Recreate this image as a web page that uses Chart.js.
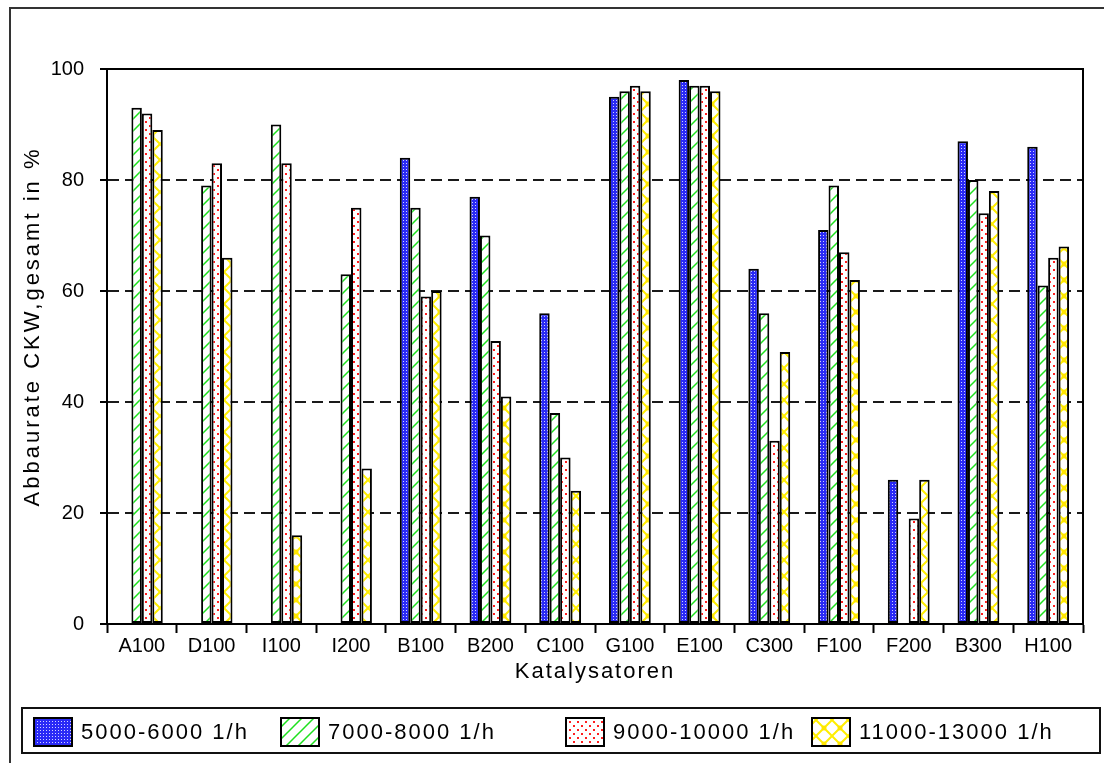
<!DOCTYPE html>
<html>
<head>
<meta charset="utf-8">
<script src="https://cdn.jsdelivr.net/npm/chart.js@4/dist/chart.umd.min.js"></script>
<style>
  html, body { margin: 0; padding: 0; background: #fff; }
</style>
</head>
<body>
<canvas id="chart" width="1104" height="763"></canvas>
<script>
'use strict';

// Katalysatoren and Abbaurate (CKW gesamt, %) per Raumgeschwindigkeit
const katalysatoren = ['A100', 'D100', 'I100', 'I200', 'B100', 'B200', 'C100',
  'G100', 'E100', 'C300', 'F100', 'F200', 'B300', 'H100'];
const reihen = ['5000-6000 1/h', '7000-8000 1/h', '9000-10000 1/h', '11000-13000 1/h'];
const rate5000 = [null, null, null, null, 84, 77, 56, 95, 98, 64, 71, 26, 87, 86];
const rate7000 = [93, 79, 90, 63, 75, 70, 38, 96, 97, 56, 79, null, 80, 61];
const rate9000 = [92, 83, 83, 75, 59, 51, 30, 97, 97, 33, 67, 19, 74, 66];
const rate11000 = [89, 66, 16, 28, 60, 41, 24, 96, 96, 49, 62, 26, 78, 68];
const yTicks = [0, 20, 40, 60, 80, 100];

const FAMILY = '"Liberation Sans", Arial, sans-serif';
const FONT = { family: FAMILY, size: 20 };
const TITLE_FONT = { family: FAMILY, size: 22 };

// small repeating fills, like the old hatch brushes
function pattern(size, draw) {
  const c = document.createElement('canvas');
  c.width = size;
  c.height = size;
  const g = c.getContext('2d');
  draw(g, size);
  return g.createPattern(c, 'repeat');
}

const blueDots = pattern(3, (g) => {
  g.fillStyle = '#2a2af6';
  g.fillRect(0, 0, 3, 3);
  g.fillStyle = '#d2d2ff';
  g.fillRect(1, 1, 1, 1);
});

const greenHatch = pattern(12, (g, s) => {
  g.fillStyle = '#fff';
  g.fillRect(0, 0, s, s);
  g.strokeStyle = '#1ee01e';
  g.lineWidth = 1.5;
  g.beginPath();
  g.moveTo(0, s); g.lineTo(s, 0);
  g.moveTo(-2, 2); g.lineTo(2, -2);
  g.moveTo(s - 2, s + 2); g.lineTo(s + 2, s - 2);
  g.stroke();
});

const redDots = pattern(8, (g, s) => {
  g.fillStyle = '#fff';
  g.fillRect(0, 0, s, s);
  g.fillStyle = '#ff1e1e';
  g.fillRect(1, 1, 2, 2);
  g.fillRect(5, 5, 2, 2);
});

const yellowCross = pattern(16, (g, s) => {
  g.fillStyle = '#fff';
  g.fillRect(0, 0, s, s);
  g.strokeStyle = '#ffee00';
  g.lineWidth = 2;
  g.beginPath();
  g.moveTo(0, 0); g.lineTo(s, s);
  g.moveTo(0, s); g.lineTo(s, 0);
  g.stroke();
  g.fillStyle = '#ffe600';
  g.beginPath();
  g.arc(s / 2, s / 2, 2.5, 0, Math.PI * 2);
  g.fill();
});

const fills = [blueDots, greenHatch, redDots, yellowCross];
const series = [rate5000, rate7000, rate9000, rate11000];

// white page with the outer frame (left and top edge visible)
const framePlugin = {
  id: 'frame',
  beforeDraw(chart) {
    const ctx = chart.ctx;
    ctx.save();
    ctx.fillStyle = '#fff';
    ctx.fillRect(0, 0, chart.width, chart.height);
    ctx.strokeStyle = '#333';
    ctx.lineWidth = 2;
    ctx.beginPath();
    ctx.moveTo(10, chart.height);
    ctx.lineTo(10, 8);
    ctx.lineTo(chart.width, 8);
    ctx.stroke();
    ctx.restore();
  }
};

// wider letter spacing on the axis titles; the y title sits a bit above centre
const titleSpacingPlugin = {
  id: 'titleSpacing',
  afterUpdate(chart) {
    Object.values(chart.scales).forEach((scale) => {
      if (scale._wideTitle) return;
      const drawTitle = scale.drawTitle.bind(scale);
      scale.drawTitle = function () {
        const c = this.ctx;
        c.save();
        if (this.axis === 'y') {
          c.letterSpacing = '3px';
          c.translate(0, -20);
        } else {
          c.letterSpacing = '2px';
        }
        drawTitle();
        c.restore();
      };
      scale._wideTitle = true;
    });
  }
};

// box round the plot area
const plotBoxPlugin = {
  id: 'plotBox',
  afterDatasetsDraw(chart) {
    const { left, top, width, height } = chart.chartArea;
    const ctx = chart.ctx;
    ctx.save();
    ctx.strokeStyle = '#000';
    ctx.lineWidth = 2;
    ctx.strokeRect(left, top, width, height);
    ctx.restore();
  }
};

// boxed legend row under the axis title
const legendBoxPlugin = {
  id: 'legendBox',
  afterDraw(chart) {
    const ctx = chart.ctx;
    const itemX = [34, 281, 566, 812];
    ctx.save();
    ctx.strokeStyle = '#111';
    ctx.lineWidth = 2;
    ctx.strokeRect(22, 708, 1078, 45);
    ctx.font = `${TITLE_FONT.size}px ${FAMILY}`;
    ctx.letterSpacing = '2px';
    ctx.textBaseline = 'middle';
    chart.data.datasets.forEach((ds, i) => {
      const x = itemX[i];
      ctx.fillStyle = ds.backgroundColor;
      ctx.fillRect(x, 718, 38, 28);
      ctx.strokeStyle = '#000';
      ctx.strokeRect(x, 718, 38, 28);
      ctx.fillStyle = '#000';
      ctx.fillText(ds.label, x + 47, 733);
    });
    ctx.restore();
  }
};

const ctx = document.getElementById('chart').getContext('2d');
new Chart(ctx, {
  type: 'bar',
  data: {
    labels: katalysatoren,
    datasets: series.map((values, i) => ({
      label: reihen[i],
      data: values,
      backgroundColor: fills[i],
      borderColor: '#000',
      borderWidth: 2,
      borderSkipped: false
    }))
  },
  options: {
    responsive: false,
    animation: false,
    devicePixelRatio: 1,
    layout: { padding: { left: 0, top: 69, right: 21, bottom: 77 } },
    datasets: {
      bar: { categoryPercentage: 0.6, barPercentage: 1.0 }
    },
    plugins: {
      legend: { display: false },
      tooltip: { enabled: false }
    },
    scales: {
      x: {
        grid: {
          display: true,
          drawOnChartArea: false,
          offset: true,
          tickLength: 9,
          tickColor: '#000',
          tickWidth: 2
        },
        border: { display: true, color: '#000', width: 2 },
        ticks: { font: FONT, color: '#000', padding: 1, maxRotation: 0, autoSkip: false },
        title: {
          display: true,
          text: 'Katalysatoren',
          font: TITLE_FONT,
          color: '#000',
          padding: { top: 0, bottom: 1 }
        },
        afterFit(scale) { scale.height = 62; }
      },
      y: {
        min: 0,
        max: 100,
        afterBuildTicks(scale) {
          scale.ticks = yTicks.map(v => ({ value: v }));
        },
        ticks: { font: FONT, color: '#000', padding: 16 },
        grid: {
          color: (c) => (c.tick && c.tick.value > 0 && c.tick.value < 100) ? '#1a1a1a' : 'rgba(0,0,0,0)',
          lineWidth: 2,
          tickLength: 7,
          tickColor: '#000',
          tickWidth: 2
        },
        border: { display: true, color: '#000', width: 2, dash: [11, 6] },
        title: {
          display: true,
          text: 'Abbaurate CKW,gesamt in %',
          font: TITLE_FONT,
          color: '#000',
          padding: { top: 20, bottom: 0 }
        },
        afterFit(scale) { scale.width = 107; }
      }
    }
  },
  plugins: [framePlugin, titleSpacingPlugin, plotBoxPlugin, legendBoxPlugin]
});
</script>
</body>
</html>
